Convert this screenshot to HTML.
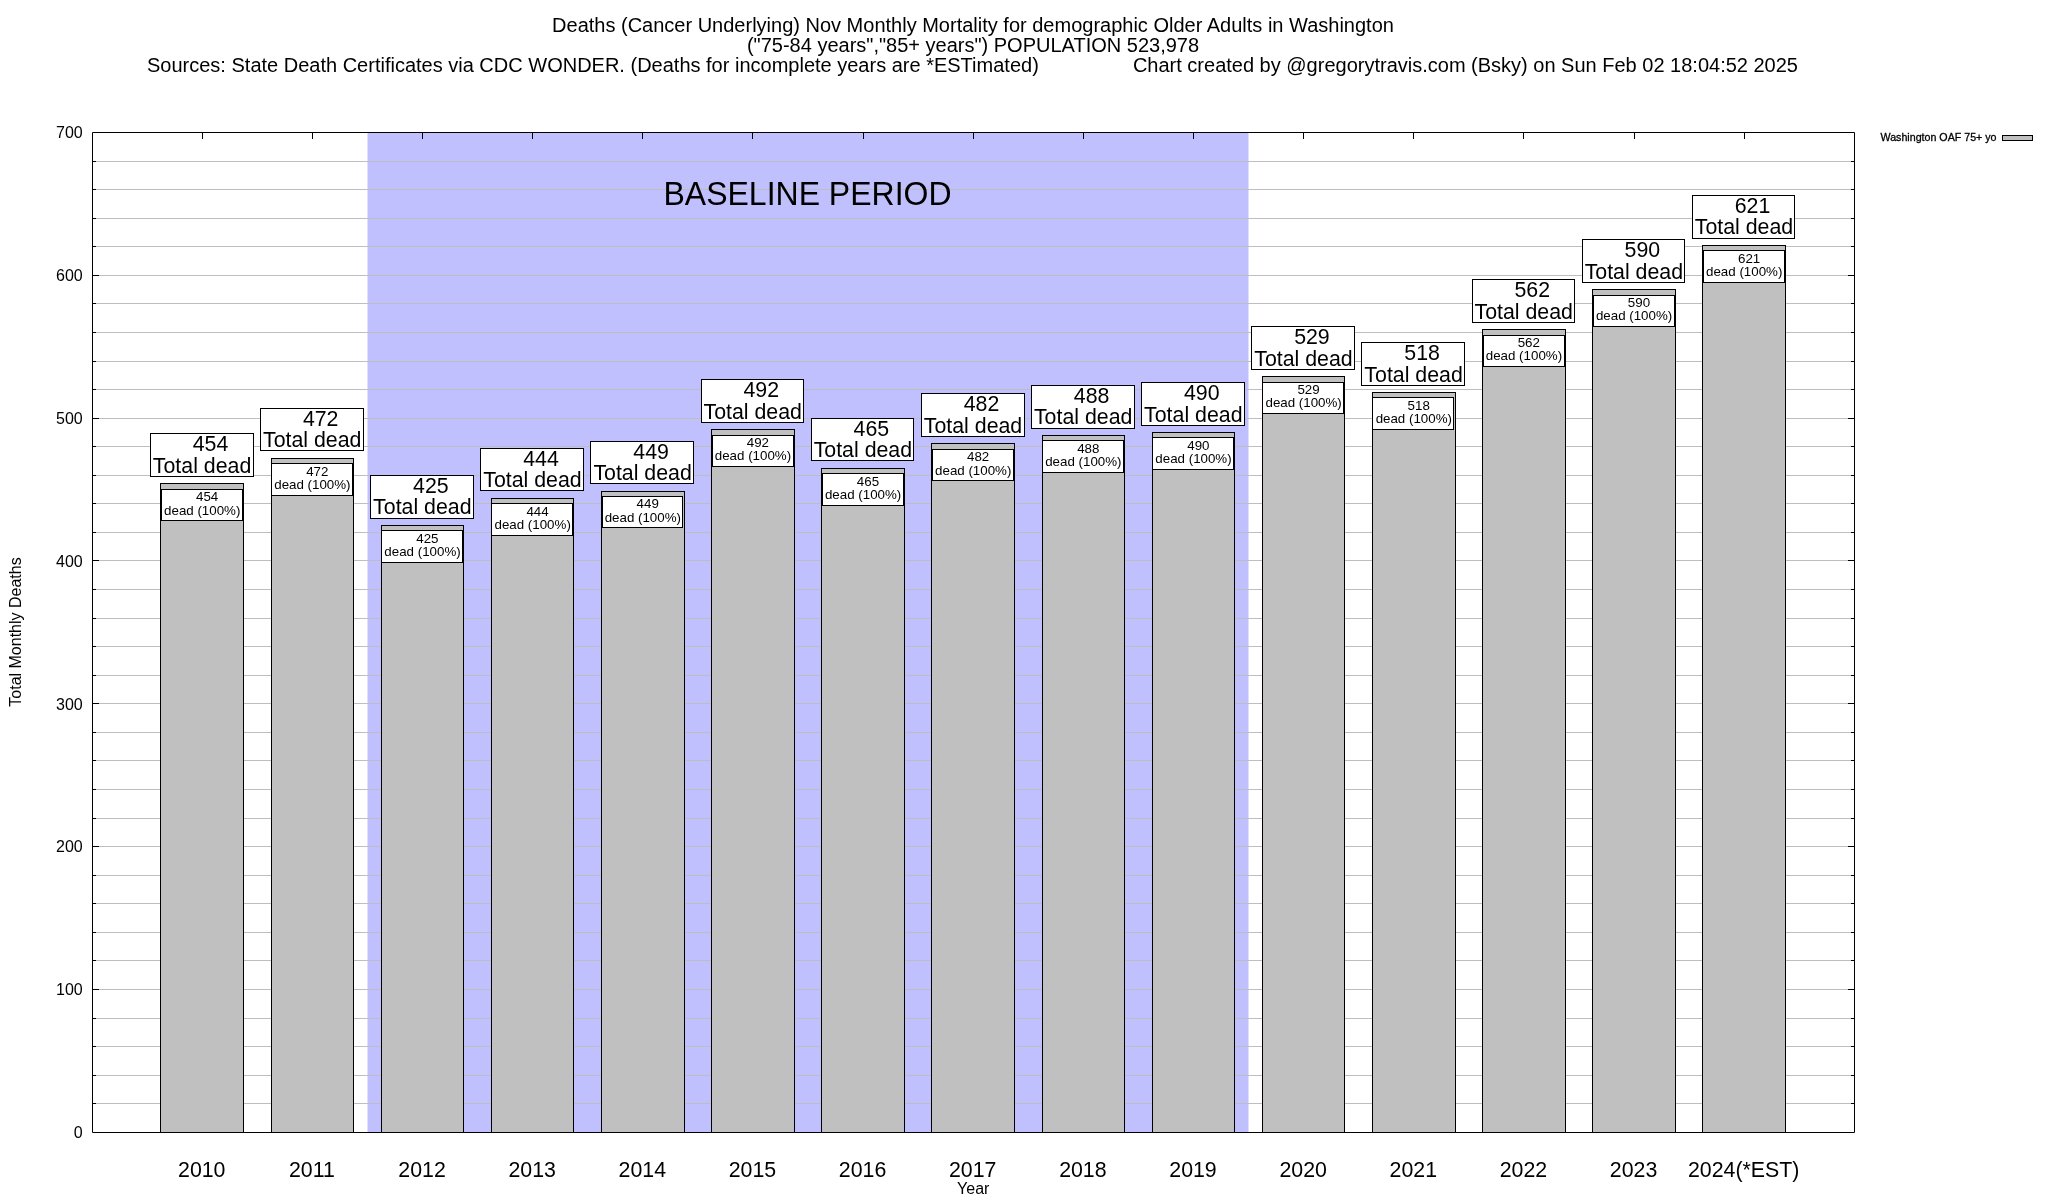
<!DOCTYPE html>
<html><head><meta charset="utf-8"><title>chart</title>
<style>html,body{margin:0;padding:0;background:#fff;width:2048px;height:1200px;overflow:hidden}svg{display:block;will-change:transform}text{font-family:"Liberation Sans",sans-serif;fill:#000}</style>
</head><body>
<svg width="2048" height="1200" viewBox="0 0 2048 1200">
<rect x="0" y="0" width="2048" height="1200" fill="#ffffff"/>
<rect x="367.50" y="132.5" width="881.00" height="1000" fill="#c0c0ff"/>
<path d="M92.5,1103.5H1854.5M92.5,1075.5H1854.5M92.5,1046.5H1854.5M92.5,1018.5H1854.5M92.5,989.5H1854.5M92.5,960.5H1854.5M92.5,932.5H1854.5M92.5,903.5H1854.5M92.5,875.5H1854.5M92.5,846.5H1854.5M92.5,818.5H1854.5M92.5,789.5H1854.5M92.5,760.5H1854.5M92.5,732.5H1854.5M92.5,703.5H1854.5M92.5,675.5H1854.5M92.5,646.5H1854.5M92.5,618.5H1854.5M92.5,589.5H1854.5M92.5,560.5H1854.5M92.5,532.5H1854.5M92.5,503.5H1854.5M92.5,475.5H1854.5M92.5,446.5H1854.5M92.5,418.5H1854.5M92.5,389.5H1854.5M92.5,361.5H1854.5M92.5,332.5H1854.5M92.5,303.5H1854.5M92.5,275.5H1854.5M92.5,246.5H1854.5M92.5,218.5H1854.5M92.5,189.5H1854.5M92.5,161.5H1854.5" stroke="#bebebe" stroke-width="1" fill="none"/>
<path d="M92.5,132.5H1854.5V1132.5H92.5Z" stroke="#000" stroke-width="1" fill="none"/>
<path d="M93,1132.5h6M1854,1132.5h-6M93,1103.5h3M1854,1103.5h-3M93,1075.5h3M1854,1075.5h-3M93,1046.5h3M1854,1046.5h-3M93,1018.5h3M1854,1018.5h-3M93,989.5h6M1854,989.5h-6M93,960.5h3M1854,960.5h-3M93,932.5h3M1854,932.5h-3M93,903.5h3M1854,903.5h-3M93,875.5h3M1854,875.5h-3M93,846.5h6M1854,846.5h-6M93,818.5h3M1854,818.5h-3M93,789.5h3M1854,789.5h-3M93,760.5h3M1854,760.5h-3M93,732.5h3M1854,732.5h-3M93,703.5h6M1854,703.5h-6M93,675.5h3M1854,675.5h-3M93,646.5h3M1854,646.5h-3M93,618.5h3M1854,618.5h-3M93,589.5h3M1854,589.5h-3M93,560.5h6M1854,560.5h-6M93,532.5h3M1854,532.5h-3M93,503.5h3M1854,503.5h-3M93,475.5h3M1854,475.5h-3M93,446.5h3M1854,446.5h-3M93,418.5h6M1854,418.5h-6M93,389.5h3M1854,389.5h-3M93,361.5h3M1854,361.5h-3M93,332.5h3M1854,332.5h-3M93,303.5h3M1854,303.5h-3M93,275.5h6M1854,275.5h-6M93,246.5h3M1854,246.5h-3M93,218.5h3M1854,218.5h-3M93,189.5h3M1854,189.5h-3M93,161.5h3M1854,161.5h-3M93,132.5h6M1854,132.5h-6M202.5,133v6M202.5,1132v-6M312.5,133v6M312.5,1132v-6M422.5,133v6M422.5,1132v-6M532.5,133v6M532.5,1132v-6M642.5,133v6M642.5,1132v-6M752.5,133v6M752.5,1132v-6M863.5,133v6M863.5,1132v-6M973.5,133v6M973.5,1132v-6M1083.5,133v6M1083.5,1132v-6M1193.5,133v6M1193.5,1132v-6M1303.5,133v6M1303.5,1132v-6M1413.5,133v6M1413.5,1132v-6M1523.5,133v6M1523.5,1132v-6M1634.5,133v6M1634.5,1132v-6M1744.5,133v6M1744.5,1132v-6" stroke="#000" stroke-width="1" fill="none"/>
<rect x="160.5" y="483.5" width="83.0" height="649.0" fill="#c0c0c0" stroke="#000" stroke-width="1"/>
<rect x="271.5" y="458.5" width="82.0" height="674.0" fill="#c0c0c0" stroke="#000" stroke-width="1"/>
<rect x="381.5" y="525.5" width="82.0" height="607.0" fill="#c0c0c0" stroke="#000" stroke-width="1"/>
<rect x="491.5" y="498.5" width="82.0" height="634.0" fill="#c0c0c0" stroke="#000" stroke-width="1"/>
<rect x="601.5" y="491.5" width="83.0" height="641.0" fill="#c0c0c0" stroke="#000" stroke-width="1"/>
<rect x="711.5" y="429.5" width="83.0" height="703.0" fill="#c0c0c0" stroke="#000" stroke-width="1"/>
<rect x="821.5" y="468.5" width="83.0" height="664.0" fill="#c0c0c0" stroke="#000" stroke-width="1"/>
<rect x="931.5" y="443.5" width="83.0" height="689.0" fill="#c0c0c0" stroke="#000" stroke-width="1"/>
<rect x="1042.5" y="435.5" width="82.0" height="697.0" fill="#c0c0c0" stroke="#000" stroke-width="1"/>
<rect x="1152.5" y="432.5" width="82.0" height="700.0" fill="#c0c0c0" stroke="#000" stroke-width="1"/>
<rect x="1262.5" y="376.5" width="82.0" height="756.0" fill="#c0c0c0" stroke="#000" stroke-width="1"/>
<rect x="1372.5" y="392.5" width="83.0" height="740.0" fill="#c0c0c0" stroke="#000" stroke-width="1"/>
<rect x="1482.5" y="329.5" width="83.0" height="803.0" fill="#c0c0c0" stroke="#000" stroke-width="1"/>
<rect x="1592.5" y="289.5" width="83.0" height="843.0" fill="#c0c0c0" stroke="#000" stroke-width="1"/>
<rect x="1702.5" y="245.5" width="83.0" height="887.0" fill="#c0c0c0" stroke="#000" stroke-width="1"/>
<rect x="150.5" y="433.5" width="103.0" height="43.0" fill="#fff" stroke="#000" stroke-width="1"/>
<text font-family="Liberation Sans, sans-serif" font-size="21.333" text-anchor="middle"><tspan x="210.55" y="451">454</tspan><tspan x="202.05" y="473">Total dead</tspan></text>
<rect x="161.5" y="489.5" width="81.0" height="31.0" fill="#fff" stroke="#000" stroke-width="1"/>
<text font-family="Liberation Sans, sans-serif" font-size="13.333" text-anchor="middle"><tspan x="207.15" y="501">454</tspan><tspan x="202.25" y="515">dead (100%)</tspan></text>
<rect x="260.5" y="408.5" width="103.0" height="42.0" fill="#fff" stroke="#000" stroke-width="1"/>
<text font-family="Liberation Sans, sans-serif" font-size="21.333" text-anchor="middle"><tspan x="320.69" y="426">472</tspan><tspan x="312.19" y="447">Total dead</tspan></text>
<rect x="271.5" y="463.5" width="81.0" height="32.0" fill="#fff" stroke="#000" stroke-width="1"/>
<text font-family="Liberation Sans, sans-serif" font-size="13.333" text-anchor="middle"><tspan x="317.29" y="476">472</tspan><tspan x="312.39" y="489">dead (100%)</tspan></text>
<rect x="370.5" y="475.5" width="103.0" height="43.0" fill="#fff" stroke="#000" stroke-width="1"/>
<text font-family="Liberation Sans, sans-serif" font-size="21.333" text-anchor="middle"><tspan x="430.83" y="493">425</tspan><tspan x="422.33" y="514">Total dead</tspan></text>
<rect x="381.5" y="530.5" width="81.0" height="32.0" fill="#fff" stroke="#000" stroke-width="1"/>
<text font-family="Liberation Sans, sans-serif" font-size="13.333" text-anchor="middle"><tspan x="427.43" y="543">425</tspan><tspan x="422.53" y="556">dead (100%)</tspan></text>
<rect x="480.5" y="448.5" width="103.0" height="42.0" fill="#fff" stroke="#000" stroke-width="1"/>
<text font-family="Liberation Sans, sans-serif" font-size="21.333" text-anchor="middle"><tspan x="540.97" y="466">444</tspan><tspan x="532.47" y="487">Total dead</tspan></text>
<rect x="491.5" y="503.5" width="81.0" height="32.0" fill="#fff" stroke="#000" stroke-width="1"/>
<text font-family="Liberation Sans, sans-serif" font-size="13.333" text-anchor="middle"><tspan x="537.57" y="516">444</tspan><tspan x="532.67" y="529">dead (100%)</tspan></text>
<rect x="590.5" y="441.5" width="103.0" height="42.0" fill="#fff" stroke="#000" stroke-width="1"/>
<text font-family="Liberation Sans, sans-serif" font-size="21.333" text-anchor="middle"><tspan x="651.11" y="459">449</tspan><tspan x="642.61" y="480">Total dead</tspan></text>
<rect x="602.5" y="496.5" width="80.0" height="31.0" fill="#fff" stroke="#000" stroke-width="1"/>
<text font-family="Liberation Sans, sans-serif" font-size="13.333" text-anchor="middle"><tspan x="647.71" y="508">449</tspan><tspan x="642.81" y="522">dead (100%)</tspan></text>
<rect x="701.5" y="379.5" width="102.0" height="43.0" fill="#fff" stroke="#000" stroke-width="1"/>
<text font-family="Liberation Sans, sans-serif" font-size="21.333" text-anchor="middle"><tspan x="761.25" y="397">492</tspan><tspan x="752.75" y="419">Total dead</tspan></text>
<rect x="712.5" y="435.5" width="81.0" height="31.0" fill="#fff" stroke="#000" stroke-width="1"/>
<text font-family="Liberation Sans, sans-serif" font-size="13.333" text-anchor="middle"><tspan x="757.85" y="447">492</tspan><tspan x="752.95" y="460">dead (100%)</tspan></text>
<rect x="811.5" y="418.5" width="102.0" height="42.0" fill="#fff" stroke="#000" stroke-width="1"/>
<text font-family="Liberation Sans, sans-serif" font-size="21.333" text-anchor="middle"><tspan x="871.39" y="436">465</tspan><tspan x="862.89" y="457">Total dead</tspan></text>
<rect x="822.5" y="473.5" width="81.0" height="32.0" fill="#fff" stroke="#000" stroke-width="1"/>
<text font-family="Liberation Sans, sans-serif" font-size="13.333" text-anchor="middle"><tspan x="867.99" y="486">465</tspan><tspan x="863.09" y="499">dead (100%)</tspan></text>
<rect x="921.5" y="393.5" width="103.0" height="43.0" fill="#fff" stroke="#000" stroke-width="1"/>
<text font-family="Liberation Sans, sans-serif" font-size="21.333" text-anchor="middle"><tspan x="981.53" y="411">482</tspan><tspan x="973.03" y="433">Total dead</tspan></text>
<rect x="932.5" y="449.5" width="81.0" height="31.0" fill="#fff" stroke="#000" stroke-width="1"/>
<text font-family="Liberation Sans, sans-serif" font-size="13.333" text-anchor="middle"><tspan x="978.13" y="461">482</tspan><tspan x="973.23" y="475">dead (100%)</tspan></text>
<rect x="1031.5" y="385.5" width="103.0" height="43.0" fill="#fff" stroke="#000" stroke-width="1"/>
<text font-family="Liberation Sans, sans-serif" font-size="21.333" text-anchor="middle"><tspan x="1091.67" y="403">488</tspan><tspan x="1083.17" y="424">Total dead</tspan></text>
<rect x="1042.5" y="440.5" width="81.0" height="32.0" fill="#fff" stroke="#000" stroke-width="1"/>
<text font-family="Liberation Sans, sans-serif" font-size="13.333" text-anchor="middle"><tspan x="1088.27" y="453">488</tspan><tspan x="1083.37" y="466">dead (100%)</tspan></text>
<rect x="1141.5" y="382.5" width="103.0" height="43.0" fill="#fff" stroke="#000" stroke-width="1"/>
<text font-family="Liberation Sans, sans-serif" font-size="21.333" text-anchor="middle"><tspan x="1201.81" y="400">490</tspan><tspan x="1193.31" y="422">Total dead</tspan></text>
<rect x="1152.5" y="437.5" width="81.0" height="32.0" fill="#fff" stroke="#000" stroke-width="1"/>
<text font-family="Liberation Sans, sans-serif" font-size="13.333" text-anchor="middle"><tspan x="1198.41" y="450">490</tspan><tspan x="1193.51" y="463">dead (100%)</tspan></text>
<rect x="1251.5" y="326.5" width="103.0" height="43.0" fill="#fff" stroke="#000" stroke-width="1"/>
<text font-family="Liberation Sans, sans-serif" font-size="21.333" text-anchor="middle"><tspan x="1311.95" y="344">529</tspan><tspan x="1303.45" y="366">Total dead</tspan></text>
<rect x="1262.5" y="382.5" width="81.0" height="31.0" fill="#fff" stroke="#000" stroke-width="1"/>
<text font-family="Liberation Sans, sans-serif" font-size="13.333" text-anchor="middle"><tspan x="1308.55" y="394">529</tspan><tspan x="1303.65" y="407">dead (100%)</tspan></text>
<rect x="1361.5" y="342.5" width="103.0" height="43.0" fill="#fff" stroke="#000" stroke-width="1"/>
<text font-family="Liberation Sans, sans-serif" font-size="21.333" text-anchor="middle"><tspan x="1422.09" y="360">518</tspan><tspan x="1413.59" y="382">Total dead</tspan></text>
<rect x="1372.5" y="397.5" width="81.0" height="32.0" fill="#fff" stroke="#000" stroke-width="1"/>
<text font-family="Liberation Sans, sans-serif" font-size="13.333" text-anchor="middle"><tspan x="1418.69" y="410">518</tspan><tspan x="1413.79" y="423">dead (100%)</tspan></text>
<rect x="1472.5" y="279.5" width="102.0" height="43.0" fill="#fff" stroke="#000" stroke-width="1"/>
<text font-family="Liberation Sans, sans-serif" font-size="21.333" text-anchor="middle"><tspan x="1532.23" y="297">562</tspan><tspan x="1523.73" y="319">Total dead</tspan></text>
<rect x="1483.5" y="335.5" width="81.0" height="31.0" fill="#fff" stroke="#000" stroke-width="1"/>
<text font-family="Liberation Sans, sans-serif" font-size="13.333" text-anchor="middle"><tspan x="1528.83" y="347">562</tspan><tspan x="1523.93" y="360">dead (100%)</tspan></text>
<rect x="1582.5" y="239.5" width="102.0" height="43.0" fill="#fff" stroke="#000" stroke-width="1"/>
<text font-family="Liberation Sans, sans-serif" font-size="21.333" text-anchor="middle"><tspan x="1642.37" y="257">590</tspan><tspan x="1633.87" y="279">Total dead</tspan></text>
<rect x="1593.5" y="295.5" width="81.0" height="31.0" fill="#fff" stroke="#000" stroke-width="1"/>
<text font-family="Liberation Sans, sans-serif" font-size="13.333" text-anchor="middle"><tspan x="1638.97" y="307">590</tspan><tspan x="1634.07" y="320">dead (100%)</tspan></text>
<rect x="1692.5" y="195.5" width="102.0" height="43.0" fill="#fff" stroke="#000" stroke-width="1"/>
<text font-family="Liberation Sans, sans-serif" font-size="21.333" text-anchor="middle"><tspan x="1752.51" y="213">621</tspan><tspan x="1744.01" y="234">Total dead</tspan></text>
<rect x="1703.5" y="250.5" width="81.0" height="32.0" fill="#fff" stroke="#000" stroke-width="1"/>
<text font-family="Liberation Sans, sans-serif" font-size="13.333" text-anchor="middle"><tspan x="1749.11" y="263">621</tspan><tspan x="1744.21" y="276">dead (100%)</tspan></text>
<text font-family="Liberation Sans, sans-serif" font-size="32" text-anchor="middle" transform="translate(807.52,204.9) scale(1,1.065)" x="0" y="0">BASELINE PERIOD</text>
<text font-family="Liberation Sans, sans-serif" font-size="16" text-anchor="end" x="82.7" y="1138">0</text>
<text font-family="Liberation Sans, sans-serif" font-size="16" text-anchor="end" x="82.7" y="995">100</text>
<text font-family="Liberation Sans, sans-serif" font-size="16" text-anchor="end" x="82.7" y="852">200</text>
<text font-family="Liberation Sans, sans-serif" font-size="16" text-anchor="end" x="82.7" y="710">300</text>
<text font-family="Liberation Sans, sans-serif" font-size="16" text-anchor="end" x="82.7" y="567">400</text>
<text font-family="Liberation Sans, sans-serif" font-size="16" text-anchor="end" x="82.7" y="424">500</text>
<text font-family="Liberation Sans, sans-serif" font-size="16" text-anchor="end" x="82.7" y="281">600</text>
<text font-family="Liberation Sans, sans-serif" font-size="16" text-anchor="end" x="82.7" y="138">700</text>
<text font-family="Liberation Sans, sans-serif" font-size="21.333" text-anchor="middle" x="201.75" y="1177">2010</text>
<text font-family="Liberation Sans, sans-serif" font-size="21.333" text-anchor="middle" x="311.89" y="1177">2011</text>
<text font-family="Liberation Sans, sans-serif" font-size="21.333" text-anchor="middle" x="422.03" y="1177">2012</text>
<text font-family="Liberation Sans, sans-serif" font-size="21.333" text-anchor="middle" x="532.17" y="1177">2013</text>
<text font-family="Liberation Sans, sans-serif" font-size="21.333" text-anchor="middle" x="642.31" y="1177">2014</text>
<text font-family="Liberation Sans, sans-serif" font-size="21.333" text-anchor="middle" x="752.45" y="1177">2015</text>
<text font-family="Liberation Sans, sans-serif" font-size="21.333" text-anchor="middle" x="862.59" y="1177">2016</text>
<text font-family="Liberation Sans, sans-serif" font-size="21.333" text-anchor="middle" x="972.73" y="1177">2017</text>
<text font-family="Liberation Sans, sans-serif" font-size="21.333" text-anchor="middle" x="1082.87" y="1177">2018</text>
<text font-family="Liberation Sans, sans-serif" font-size="21.333" text-anchor="middle" x="1193.01" y="1177">2019</text>
<text font-family="Liberation Sans, sans-serif" font-size="21.333" text-anchor="middle" x="1303.15" y="1177">2020</text>
<text font-family="Liberation Sans, sans-serif" font-size="21.333" text-anchor="middle" x="1413.29" y="1177">2021</text>
<text font-family="Liberation Sans, sans-serif" font-size="21.333" text-anchor="middle" x="1523.43" y="1177">2022</text>
<text font-family="Liberation Sans, sans-serif" font-size="21.333" text-anchor="middle" x="1633.57" y="1177">2023</text>
<text font-family="Liberation Sans, sans-serif" font-size="21.333" text-anchor="middle" x="1743.71" y="1177">2024(*EST)</text>
<text font-family="Liberation Sans, sans-serif" font-size="16" text-anchor="middle" x="973.2" y="1194">Year</text>
<text font-family="Liberation Sans, sans-serif" font-size="16" text-anchor="middle" transform="translate(21,632) rotate(-90)" x="0" y="0">Total Monthly Deaths</text>
<text font-family="Liberation Sans, sans-serif" font-size="20" text-anchor="middle" x="973" y="31.9">Deaths (Cancer Underlying) Nov Monthly Mortality for demographic Older Adults in Washington</text>
<text font-family="Liberation Sans, sans-serif" font-size="20" text-anchor="middle" x="973" y="51.6">("75-84 years","85+ years") POPULATION 523,978</text>
<text font-family="Liberation Sans, sans-serif" font-size="20" x="147" y="71.7">Sources: State Death Certificates via CDC WONDER. (Deaths for incomplete years are *ESTimated)</text>
<text font-family="Liberation Sans, sans-serif" font-size="20" x="1132.9" y="71.7">Chart created by @gregorytravis.com (Bsky) on Sun Feb 02 18:04:52 2025</text>
<text font-family="Liberation Sans, sans-serif" font-size="10.667" text-anchor="end" x="1996.5" y="141" style="stroke:#000;stroke-width:0.3px">Washington OAF 75+ yo</text>
<rect x="2002.5" y="135.5" width="30" height="5" fill="#c0c0c0" stroke="#000" stroke-width="1"/>
</svg>
</body></html>
